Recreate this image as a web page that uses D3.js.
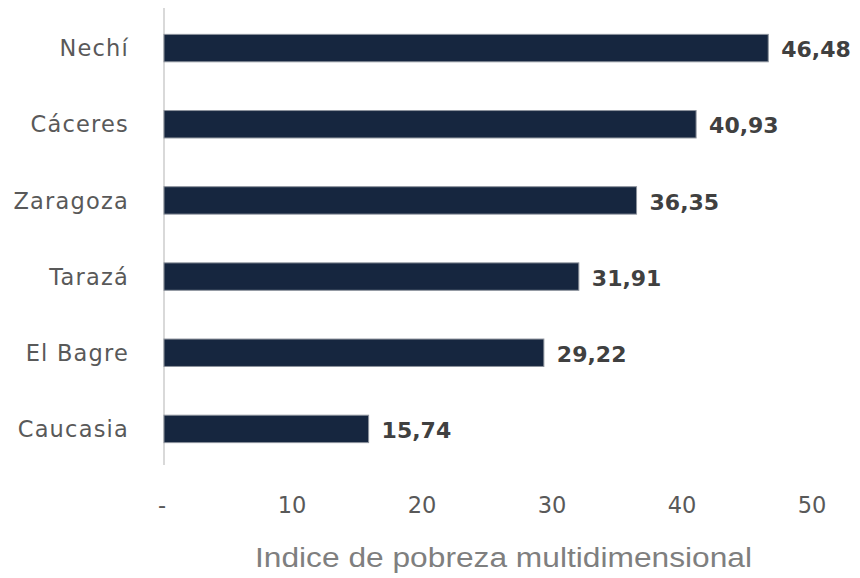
<!DOCTYPE html>
<html>
<head>
<meta charset="utf-8">
<script src="https://cdn.jsdelivr.net/npm/d3@7"></script>
<style>
  body { margin: 0; background: #fff; }
</style>
</head>
<body>
<div id="chart"></div>
<script>
const municipios = ["Nechí", "Cáceres", "Zaragoza", "Tarazá", "El Bagre", "Caucasia"];
const ipm = [46.48, 40.93, 36.35, 31.91, 29.22, 15.74];
const tickValues = [0, 10, 20, 30, 40, 50];
const tickLabels = ["-", "10", "20", "30", "40", "50"];
const axisTitle = "Indice de pobreza multidimensional";

const width = 860, height = 578;
const data = municipios.map((m, i) => ({ name: m, value: ipm[i] }));

const svg = d3.select("#chart")
  .append("svg")
  .attr("width", width)
  .attr("height", height);

const x = d3.scaleLinear().domain([0, 50]).range([164, 814]);
const y = d3.scaleBand()
  .domain(municipios)
  .range([10, 467])
  .paddingInner(0.64)
  .paddingOuter(0.32);

// eje vertical
svg.append("line")
  .attr("x1", x(0)).attr("x2", x(0))
  .attr("y1", 8).attr("y2", 465)
  .style("stroke", "#d9d9d9")
  .style("stroke-width", "2px");

// barras
svg.selectAll(".bar")
  .data(data)
  .enter()
  .append("rect")
  .attr("class", "bar")
  .attr("x", x(0))
  .attr("y", d => y(d.name))
  .attr("width", d => x(d.value) - x(0))
  .attr("height", y.bandwidth())
  .style("fill", "#16263f")
  .style("stroke", "#8c929c")
  .style("stroke-width", "1px");

// etiquetas de valor
svg.selectAll(".value")
  .data(data)
  .enter()
  .append("text")
  .attr("class", "value")
  .attr("x", d => x(d.value) + 13)
  .attr("y", d => y(d.name) + y.bandwidth() / 2)
  .attr("dy", "0.42em")
  .text(d => d3.format(".2f")(d.value).replace(".", ","))
  .style("font-family", "'DejaVu Sans', sans-serif")
  .style("font-weight", "bold")
  .style("font-size", "22px")
  .style("fill", "#404040");

// categorías
svg.selectAll(".cat")
  .data(data)
  .enter()
  .append("text")
  .attr("class", "cat")
  .attr("x", 129)
  .attr("y", d => y(d.name) + y.bandwidth() / 2)
  .attr("dy", "0.36em")
  .attr("text-anchor", "end")
  .text(d => d.name)
  .style("font-family", "'DejaVu Sans', sans-serif")
  .style("font-size", "22.5px")
  .style("letter-spacing", "1.2px")
  .style("fill", "#595959");

// ticks del eje x
svg.selectAll(".tick")
  .data(tickValues)
  .enter()
  .append("text")
  .attr("class", "tick")
  .attr("x", d => x(d) - 2)
  .attr("y", 513)
  .attr("text-anchor", "middle")
  .text((d, i) => tickLabels[i])
  .style("font-family", "'DejaVu Sans', sans-serif")
  .style("font-size", "22.5px")
  .style("fill", "#595959");

// título del eje
svg.append("text")
  .attr("x", 503.5)
  .attr("y", 567)
  .attr("text-anchor", "middle")
  .attr("textLength", 497)
  .attr("lengthAdjust", "spacingAndGlyphs")
  .text(axisTitle)
  .style("font-family", "'Liberation Sans', Arial, sans-serif")
  .style("font-size", "27px")
  .style("fill", "#7f7f7f");
</script>
</body>
</html>
